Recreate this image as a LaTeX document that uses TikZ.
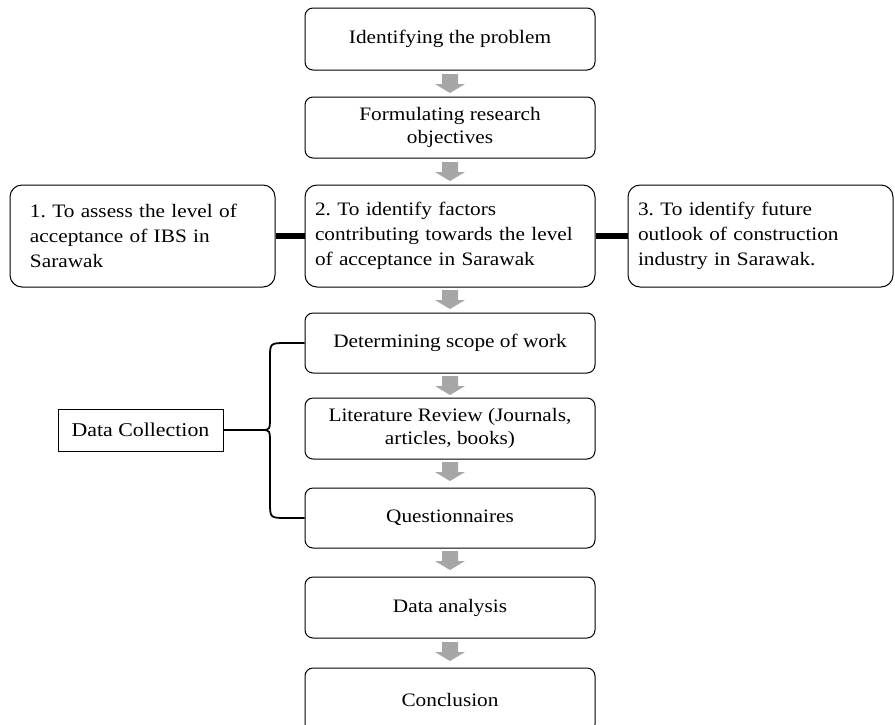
\documentclass[tikz,border=0pt]{standalone}
\usepackage{fontspec}
\setmainfont{Liberation Serif}[FakeStretch=1.12]
\frenchspacing
\begin{document}
\begin{tikzpicture}[x=1pt,y=-1pt,
  box/.style={draw=black,line width=1pt,rounded corners=8pt,fill=white,align=center,font=\fontsize{19}{23}\selectfont,inner sep=2pt},
  lbox/.style={draw=black,line width=1pt,rounded corners=12pt,fill=white,align=left,font=\fontsize{19}{25}\selectfont,inner sep=0pt},
  dcbox/.style={draw=black,line width=0.8pt,font=\fontsize{19.5}{23}\selectfont,inner sep=2pt}]
\useasboundingbox (0,0) rectangle (895,724);
\clip (0,0) rectangle (895,724);
\newcommand{\garr}[2]{% x, top y
  \fill[black!35] (#1-8,#2) -- (#1+8,#2) -- (#1+8,#2+10) -- (#1+15,#2+10) -- (#1,#2+19) -- (#1-15,#2+10) -- (#1-8,#2+10) -- cycle;}
\node[box,minimum width=290pt,minimum height=62pt] (b1) at (450,39) {Identifying the problem};
\node[box,minimum width=290pt,minimum height=61pt] (b2) at (450,127.5) {Formulating research\\objectives};
\node[lbox,minimum width=290pt,minimum height=102pt,text width=270pt] (b3) at (450,236) {2. To identify factors\\contributing towards the level\\of acceptance in Sarawak};
\node[lbox,minimum width=265pt,minimum height=102pt,text width=225pt] (l) at (142.5,236) {1. To assess the level of\\acceptance of IBS in\\Sarawak};
\node[lbox,minimum width=265pt,minimum height=102pt,text width=245pt] (r) at (760.5,236) {3. To identify future\\outlook of construction\\industry in Sarawak.};
\node[box,minimum width=290pt,minimum height=60pt] (b4) at (450,343) {Determining scope of work};
\node[box,minimum width=290pt,minimum height=61pt] (b5) at (450,428.5) {Literature Review (Journals,\\articles, books)};
\node[box,minimum width=290pt,minimum height=60pt] (b6) at (450,518) {Questionnaires};
\node[box,minimum width=290pt,minimum height=61pt] (b7) at (450,607.5) {Data analysis};
\node[box,minimum width=290pt,minimum height=64pt,text depth=0pt] (b8) at (450,700) {Conclusion};
\node[dcbox,minimum width=165pt,minimum height=42pt] (dc) at (140.5,430) {Data Collection};
\draw[line width=6pt] (l.east) -- (b3.west);
\draw[line width=6pt] (b3.east) -- (r.west);
\garr{450}{74}
\garr{450}{162}
\garr{450}{290}
\garr{450}{376}
\garr{450}{462}
\garr{450}{551}
\garr{450}{642}
\coordinate (tip) at (262,430);
\draw[line width=1.8pt] (b4.west) -- (287,343) .. controls (270,343) .. (270,358) -- (270,415) .. controls (270,430) .. (tip)
  .. controls (270,430) .. (270,445) -- (270,502) .. controls (270,518) .. (287,518) -- (b6.west);
\draw[line width=1.2pt] (dc.east) -- (tip);
\end{tikzpicture}
\end{document}
